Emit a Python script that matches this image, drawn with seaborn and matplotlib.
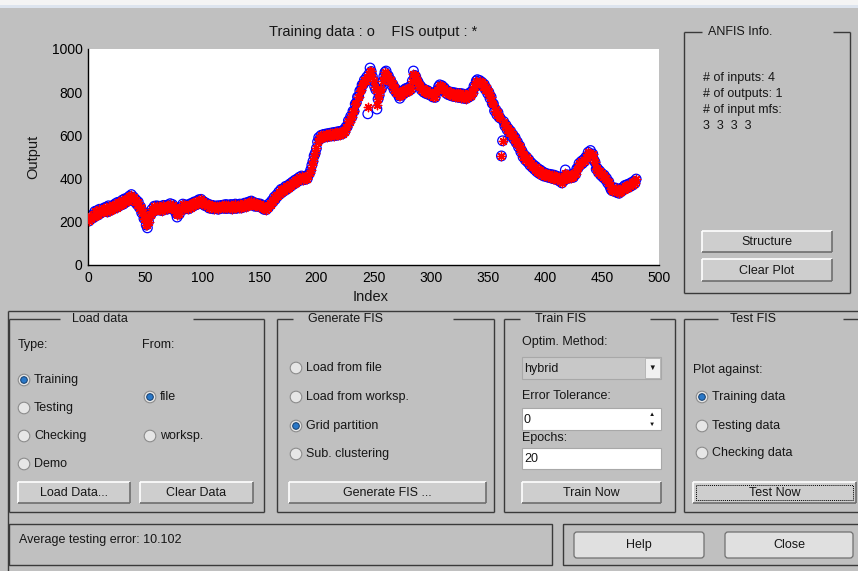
import numpy as np
import matplotlib
matplotlib.use("Agg")
import matplotlib.pyplot as plt
from matplotlib.patches import Rectangle, Circle, FancyBboxPatch
import seaborn as sns

# ---------------------------------- DATOS ----------------------------------

# Indices de las muestras de entrenamiento
indice = np.arange(1, 481)

# Datos de entrenamiento (marcador 'o')
datos_entrenamiento = [
    204, 226, 214, 232, 220, 248, 228, 252, 232, 258, 240, 256, 246, 264, 250, 268, 246, 274, 252, 270,
    256, 276, 262, 284, 266, 290, 272, 290, 278, 300, 282, 306, 290, 308, 296, 318, 304, 326, 304, 314,
    292, 302, 280, 292, 266, 270, 242, 246, 215, 218, 185, 172, 200, 238, 232, 258, 248, 272, 252, 274,
    258, 272, 254, 270, 252, 276, 260, 274, 258, 278, 264, 284, 266, 280, 256, 268, 240, 222, 246, 236,
    266, 260, 282, 258, 278, 262, 274, 260, 282, 266, 286, 272, 292, 278, 294, 282, 302, 290, 304, 284,
    294, 276, 288, 272, 282, 264, 278, 262, 276, 260, 272, 262, 274, 258, 274, 262, 276, 264, 278, 262,
    280, 262, 276, 266, 280, 260, 278, 264, 282, 262, 276, 266, 282, 264, 280, 268, 286, 270, 288, 274,
    292, 280, 296, 278, 290, 272, 286, 272, 284, 270, 282, 266, 276, 258, 270, 256, 272, 266, 286, 280,
    298, 292, 314, 304, 324, 318, 338, 328, 350, 336, 354, 344, 364, 350, 368, 358, 376, 366, 384, 374,
    392, 380, 398, 388, 406, 396, 412, 394, 408, 396, 412, 400, 418, 424, 440, 462, 480, 505, 518, 540,
    570, 590, 582, 600, 590, 604, 592, 606, 594, 608, 596, 610, 598, 612, 598, 614, 600, 616, 602, 618,
    604, 620, 608, 626, 618, 640, 640, 668, 664, 688, 684, 712, 712, 745, 752, 778, 780, 806, 810, 834,
    836, 856, 850, 870, 700, 884, 912, 896, 872, 852, 826, 812, 722, 768, 786, 812, 816, 850, 872, 892,
    898, 876, 876, 852, 856, 832, 836, 812, 818, 798, 806, 784, 772, 790, 786, 808, 796, 816, 802, 820,
    806, 826, 814, 852, 898, 878, 872, 854, 848, 828, 830, 810, 818, 800, 812, 794, 808, 790, 802, 786,
    796, 778, 790, 776, 800, 808, 826, 834, 824, 830, 812, 820, 798, 808, 790, 802, 786, 800, 782, 798,
    780, 796, 778, 794, 776, 794, 774, 792, 772, 790, 770, 788, 776, 796, 782, 804, 798, 828, 826, 852,
    858, 844, 854, 836, 846, 826, 836, 812, 818, 794, 800, 772, 778, 748, 746, 714, 720, 696, 706, 684,
    680, 505, 575, 664, 644, 648, 626, 632, 610, 620, 596, 604, 582, 590, 566, 570, 546, 552, 524, 528,
    500, 510, 486, 500, 476, 488, 462, 474, 452, 464, 442, 456, 432, 446, 424, 440, 418, 432, 412, 426,
    410, 422, 406, 420, 404, 418, 400, 416, 398, 412, 394, 408, 388, 402, 380, 396, 392, 440, 418, 404,
    402, 416, 404, 420, 406, 424, 420, 446, 448, 470, 462, 480, 470, 488, 480, 500, 498, 522, 512, 530,
    508, 514, 486, 476, 444, 448, 428, 436, 416, 424, 406, 416, 396, 402, 380, 386, 364, 350, 344, 358,
    342, 356, 336, 350, 332, 352, 340, 358, 348, 368, 356, 372, 358, 376, 364, 382, 370, 388, 378, 398,
]

# Salida del FIS (marcador '*'): igual al entrenamiento salvo estos puntos
salida_fis_distinta = {
    52: 184, 78: 232, 245: 732, 247: 898, 253: 742, 254: 770, 261: 884,
    273: 782, 285: 886, 341: 848, 362: 505, 418: 428, 440: 518,
}

salida_fis = list(datos_entrenamiento)
for k, v in salida_fis_distinta.items():
    salida_fis[k - 1] = v

assert len(datos_entrenamiento) == len(indice)

ticks_x = [0, 50, 100, 150, 200, 250, 300, 350, 400, 450, 500]
ticks_y = [0, 200, 400, 600, 800, 1000]

# ---------------------------------- ESTILO ----------------------------------

sns.set_style("white")
plt.rcParams['font.family'] = ['Liberation Sans', 'DejaVu Sans']

FONDO = '#c0c0c0'
TEXTO = '#161616'
W, H = 858, 571

fig = plt.figure(figsize=(W / 100, H / 100), dpi=100, facecolor=FONDO)

# Eje "pantalla" en pixeles para dibujar la interfaz
gui = fig.add_axes([0, 0, 1, 1])
gui.set_xlim(0, W)
gui.set_ylim(H, 0)
gui.axis('off')
gui.set_facecolor(FONDO)


def linea(x, y, color='#3a3a3a', lw=1.0, **kw):
    gui.plot(x, y, color=color, lw=lw, solid_capstyle='butt', **kw)


def texto(x, y, s, size=9, ha='left', **kw):
    gui.text(x, y, s, fontsize=size, ha=ha, va='center', color=TEXTO, **kw)


def marco(x0, y0, x1, y1, titulo, tx, hueco0, hueco1):
    # Panel con titulo (uipanel de MATLAB)
    linea([x0, x0], [y0, y1])
    linea([x0, x1], [y1, y1])
    linea([x1, x1], [y0, y1])
    linea([x0, hueco0], [y0, y0])
    linea([hueco1, x1], [y0, y0])
    texto(tx, y0, titulo, ha='center')


def boton(x0, y0, x1, y1, s, foco=False):
    gui.add_patch(Rectangle((x0, y0), x1 - x0, y1 - y0, fc='#cecece', ec='none'))
    linea([x0, x1], [y0, y0], color='white', lw=1.2)
    linea([x0, x0], [y0, y1], color='white', lw=1.2)
    linea([x0, x1], [y1, y1], color='#6e6e6e', lw=1.2)
    linea([x1, x1], [y0, y1], color='#6e6e6e', lw=1.2)
    if foco:
        gui.add_patch(Rectangle((x0 + 3, y0 + 3), x1 - x0 - 6, y1 - y0 - 6,
                                fc='none', ec='black', lw=0.7, ls=(0, (1, 1))))
    texto((x0 + x1) / 2, (y0 + y1) / 2 + 0.5, s, ha='center')


def boton_redondo(x0, y0, x1, y1, s):
    gui.add_patch(FancyBboxPatch((x0, y0), x1 - x0, y1 - y0,
                                 boxstyle="round,pad=0,rounding_size=3",
                                 fc='#e0e0e0', ec='#707070', lw=0.9))
    texto((x0 + x1) / 2, (y0 + y1) / 2, s, ha='center')


def radio(x, y, s, activo=False):
    gui.add_patch(Circle((x, y), 5.8, fc='#e6e6e6', ec='#8c8c8c', lw=0.8))
    if activo:
        gui.add_patch(Circle((x, y), 3.3, fc='#2a78c8', ec='#123c6c', lw=0.7))
    texto(x + 10, y, s)


def caja(x0, y0, x1, y1, s, fc='white'):
    gui.add_patch(Rectangle((x0, y0), x1 - x0, y1 - y0, fc=fc, ec='#a8a8a8', lw=0.8))
    texto(x0 + 2, (y0 + y1) / 2 + 1, s)


# ---------------------------------- INTERFAZ ----------------------------------

# Franja superior de la ventana
gui.add_patch(Rectangle((0, 0), W, 5, fc='#f4f4f4', ec='none'))
gui.add_patch(Rectangle((0, 5), W, 3, fc='#dde4ee', ec='none'))

# Marco general de la parte inferior
linea([8, W], [310.5, 310.5])
linea([8, 8], [310.5, H])

# Titulo y etiquetas del grafico
texto(373, 32, 'Training data : o    FIS output : *', size=10.5, ha='center')
texto(371, 297, 'Index', size=10.5, ha='center')
gui.text(33, 157, 'Output', fontsize=10.5, ha='center', va='center', rotation=90, color=TEXTO)

# ANFIS Info
marco(684, 32, 850, 293, 'ANFIS Info.', 740, 702, 833)
texto(703, 78, '# of inputs: 4')
texto(703, 94, '# of outputs: 1')
texto(703, 110, '# of input mfs:')
texto(703, 126, '3  3  3  3')
boton(702, 231, 832, 252, 'Structure')
boton(702, 259, 832, 281, 'Clear Plot')

# Load data
marco(9, 319, 264, 512, 'Load data', 100, 60, 193)
texto(18, 345, 'Type:')
texto(142, 345, 'From:')
radio(24, 380, 'Training', activo=True)
radio(24, 408, 'Testing')
radio(24, 436, 'Checking')
radio(24, 464, 'Demo')
radio(150, 397, 'file', activo=True)
radio(150, 436, 'worksp.')
boton(18, 482, 130, 503, 'Load Data...')
boton(140, 482, 253, 503, 'Clear Data')

# Generate FIS
marco(277, 319, 494, 512, 'Generate FIS', 345, 293, 453)
radio(296, 368, 'Load from file')
radio(296, 397, 'Load from worksp.')
radio(296, 426, 'Grid partition', activo=True)
radio(296, 454, 'Sub. clustering')
boton(289, 482, 486, 503, 'Generate FIS ...')

# Train FIS
marco(504, 319, 675, 512, 'Train FIS', 561, 520, 650)
texto(522, 342, 'Optim. Method:')
caja(522, 357, 661, 379, 'hybrid', fc='#c8c8c8')
gui.add_patch(Rectangle((645, 358), 15, 20, fc='#f0f0f0', ec='#b0b0b0', lw=0.6))
texto(652.5, 368.5, '\u25bc', size=5.5, ha='center')
texto(522, 396, 'Error Tolerance:')
caja(522, 408, 661, 430, '0')
texto(652, 414, '\u25b2', size=4.5, ha='center')
texto(652, 424, '\u25bc', size=4.5, ha='center')
texto(522, 438, 'Epochs:')
caja(522, 448, 661, 469, '20')
boton(522, 482, 661, 503, 'Train Now')

# Test FIS
marco(684, 319, 880, 512, 'Test FIS', 753, 718, 843)
texto(693, 370, 'Plot against:')
radio(702, 397, 'Training data', activo=True)
radio(702, 426, 'Testing data')
radio(702, 453, 'Checking data')
boton(693, 482, 856, 503, 'Test Now', foco=True)

# Barra de estado y botones finales
gui.add_patch(Rectangle((9, 524), 543, 41, fc='none', ec='#3a3a3a', lw=1.0))
texto(19, 540, 'Average testing error: 10.102')
gui.add_patch(Rectangle((563, 524), 320, 41, fc='none', ec='#3a3a3a', lw=1.0))
boton_redondo(574, 532, 704, 558, 'Help')
boton_redondo(725, 532, 853, 558, 'Close')

# ---------------------------------- GRAFICO ----------------------------------

ax = fig.add_axes([88 / W, 1 - 265 / H, (659 - 88) / W, 216 / H])
ax.set_facecolor('white')

# Datos de entrenamiento: circulos azules
sns.scatterplot(x=indice, y=datos_entrenamiento, ax=ax,
                marker='o', s=48, facecolors='none', edgecolor='blue',
                linewidth=0.9, zorder=2)

# Salida del FIS: asteriscos rojos
sns.scatterplot(x=indice, y=salida_fis, ax=ax,
                marker=(8, 2, 0), s=36, color='red',
                linewidth=1.0, zorder=3)

ax.set_xlim(0, 500)
ax.set_ylim(0, 1000)
ax.set_xticks(ticks_x)
ax.set_yticks(ticks_y)
ax.tick_params(direction='in', length=4, width=1, colors='black',
               labelsize=10, pad=4)
for lado in ['top', 'right']:
    ax.spines[lado].set_visible(False)
for lado in ['left', 'bottom']:
    ax.spines[lado].set_color('black')
    ax.spines[lado].set_linewidth(1.0)
ax.set_xlabel('')
ax.set_ylabel('')

fig.savefig('out.png', dpi=100, facecolor=FONDO)
